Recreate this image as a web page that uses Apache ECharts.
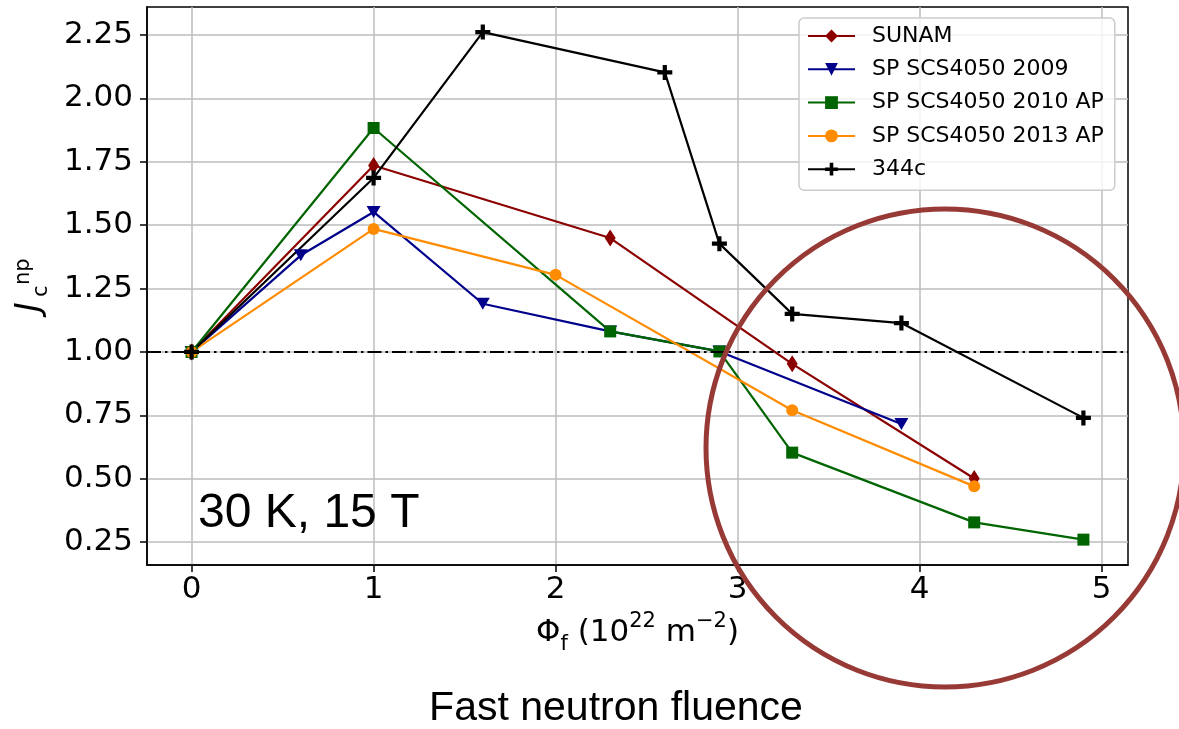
<!DOCTYPE html>
<html>
<head>
<meta charset="utf-8">
<script src="https://cdn.jsdelivr.net/npm/echarts@6/dist/echarts.min.js"></script>
<style>
    html, body { margin: 0; padding: 0; background: #fff; }
    #chart { width: 1179px; height: 729px; }
</style>
</head>
<body>
<div id="chart"></div>
<script>
// fluence (10^22 m^-2) and normalised Jc per sample
var sunamX = [0, 1, 2.3, 3.3, 4.3];
var sunamY = [1.0, 1.735, 1.449, 0.953, 0.501];
var sp2009X = [0, 0.6, 1, 1.6, 2.3, 2.9, 3.9];
var sp2009Y = [1.0, 1.381, 1.552, 1.19, 1.081, 1.002, 0.716];
var sp2010X = [0, 1, 2.3, 2.9, 3.3, 4.3, 4.9];
var sp2010Y = [1.0, 1.883, 1.081, 1.002, 0.603, 0.328, 0.26];
var sp2013X = [0, 1, 2, 3.3, 4.3];
var sp2013Y = [1.0, 1.485, 1.304, 0.77, 0.47];
var c344X = [0, 1, 1.6, 2.6, 2.9, 3.3, 3.9, 4.9];
var c344Y = [1.0, 1.686, 2.261, 2.102, 1.427, 1.15, 1.114, 0.74];

var xTicks = [0, 1, 2, 3, 4, 5];
var yTicks = [0.25, 0.5, 0.75, 1.0, 1.25, 1.5, 1.75, 2.0, 2.25];
var legendNames = ['SUNAM', 'SP SCS4050 2009', 'SP SCS4050 2010 AP', 'SP SCS4050 2013 AP', '344c'];

var plusPath = 'path://M3.6,0H6.4V3.6H10V6.4H6.4V10H3.6V6.4H0V3.6H3.6Z';
var tickFont = 'DejaVu Sans';

function pairs(xs, ys) {
    return xs.map(function (x, i) { return [x, ys[i]]; });
}

function lineSeries(name, xs, ys, color, symbol, size, rotate) {
    return {
        name: name,
        type: 'line',
        data: pairs(xs, ys),
        symbol: symbol,
        symbolSize: size,
        symbolRotate: rotate || 0,
        showAllSymbol: true,
        lineStyle: { color: color, width: 2.2 },
        itemStyle: { color: color, borderWidth: 0 },
        emphasis: { disabled: true },
        animation: false
    };
}

var chart = echarts.init(document.getElementById('chart'));

var series = [
    lineSeries(legendNames[0], sunamX, sunamY, '#8b0000', 'diamond', [11, 17]),
    lineSeries(legendNames[1], sp2009X, sp2009Y, '#00008b', 'triangle', [14, 12], 180),
    lineSeries(legendNames[2], sp2010X, sp2010Y, '#006400', 'rect', 12),
    lineSeries(legendNames[3], sp2013X, sp2013Y, '#ff8c00', 'circle', 12),
    lineSeries(legendNames[4], c344X, c344Y, '#000000', plusPath, 15)
];

// dash-dot reference line at 1
series[0].markLine = {
    silent: true,
    animation: false,
    symbol: ['none', 'none'],
    label: { show: false },
    lineStyle: { color: '#000', width: 2.2, type: [14, 4, 2.5, 4] },
    data: [{ yAxis: 1 }]
};

var option = {
    backgroundColor: '#fff',
    animation: false,
    grid: {
        left: 147, right: 51, top: 7, bottom: 164,
        show: true, borderColor: '#000', borderWidth: 1.5,
        containLabel: false
    },
    legend: {
        orient: 'vertical',
        left: 799,
        top: 18,
        data: legendNames,
        itemWidth: 47,
        itemHeight: 16,
        itemGap: 11.3,
        padding: [7, 11, 10, 8],
        backgroundColor: 'rgba(255,255,255,0.8)',
        borderColor: '#cccccc',
        borderWidth: 1.5,
        borderRadius: 5,
        textStyle: { fontFamily: tickFont, fontSize: 22, color: '#000', padding: [0, 0, 0, 12] }
    },
    xAxis: {
        type: 'value',
        min: -0.245,
        max: 5.145,
        axisLine: { show: true, onZero: false, lineStyle: { color: '#000', width: 1.5 } },
        axisTick: { show: true, length: 7, lineStyle: { color: '#000', width: 1.5 }, customValues: xTicks },
        axisLabel: {
            customValues: xTicks,
            margin: 9,
            fontFamily: tickFont, fontSize: 31, color: '#000'
        },
        splitLine: { show: true, lineStyle: { color: '#bdbdbd', width: 1.5 } },
        name: 'Φ{sub|f} (10{sup|22} m{sup|−2})',
        nameLocation: 'middle',
        nameGap: 46,
        nameTextStyle: {
            fontFamily: tickFont, fontSize: 31, color: '#000', lineHeight: 44,
            rich: {
                sub: { fontFamily: tickFont, fontSize: 21, lineHeight: 21, verticalAlign: 'bottom', color: '#000' },
                sup: { fontFamily: tickFont, fontSize: 21, lineHeight: 21, verticalAlign: 'top', color: '#000' }
            }
        }
    },
    yAxis: {
        type: 'value',
        min: 0.16,
        max: 2.36,
        axisLine: { show: true, onZero: false, lineStyle: { color: '#000', width: 1.5 } },
        axisTick: { show: true, length: 7, lineStyle: { color: '#000', width: 1.5 }, customValues: yTicks },
        axisLabel: {
            customValues: yTicks,
            margin: 14,
            fontFamily: tickFont, fontSize: 31, color: '#000',
            formatter: function (v) { return v.toFixed(2); }
        },
        splitLine: { show: true, lineStyle: { color: '#bdbdbd', width: 1.5 } }
    },
    graphic: [
        // y axis label J_c^np, rotated
        { type: 'text', x: 30, y: 312, rotation: Math.PI / 2,
          style: { text: 'J', font: 'italic 33px "DejaVu Sans"', fill: '#000', align: 'left', verticalAlign: 'middle' } },
        { type: 'text', x: 42, y: 297, rotation: Math.PI / 2,
          style: { text: 'c', font: '21px "DejaVu Sans"', fill: '#000', align: 'left', verticalAlign: 'middle' } },
        { type: 'text', x: 24, y: 285, rotation: Math.PI / 2,
          style: { text: 'np', font: '21px "DejaVu Sans"', fill: '#000', align: 'left', verticalAlign: 'middle' } },
        // annotations
        { type: 'text', left: 198, top: 490, z: 50,
          style: { text: '30 K, 15 T', font: '48px "Liberation Sans"', fill: '#000' } },
        { type: 'text', x: 616, y: 709, z: 50,
          style: { text: 'Fast neutron fluence', font: '41px "Liberation Sans"', fill: '#000', align: 'center', verticalAlign: 'middle' } },
        { type: 'circle', z: 100, silent: true,
          shape: { cx: 945, cy: 448, r: 239 },
          style: { fill: 'none', stroke: '#973a36', lineWidth: 5 } }
    ],
    series: series
};

chart.setOption(option);
</script>
</body>
</html>
